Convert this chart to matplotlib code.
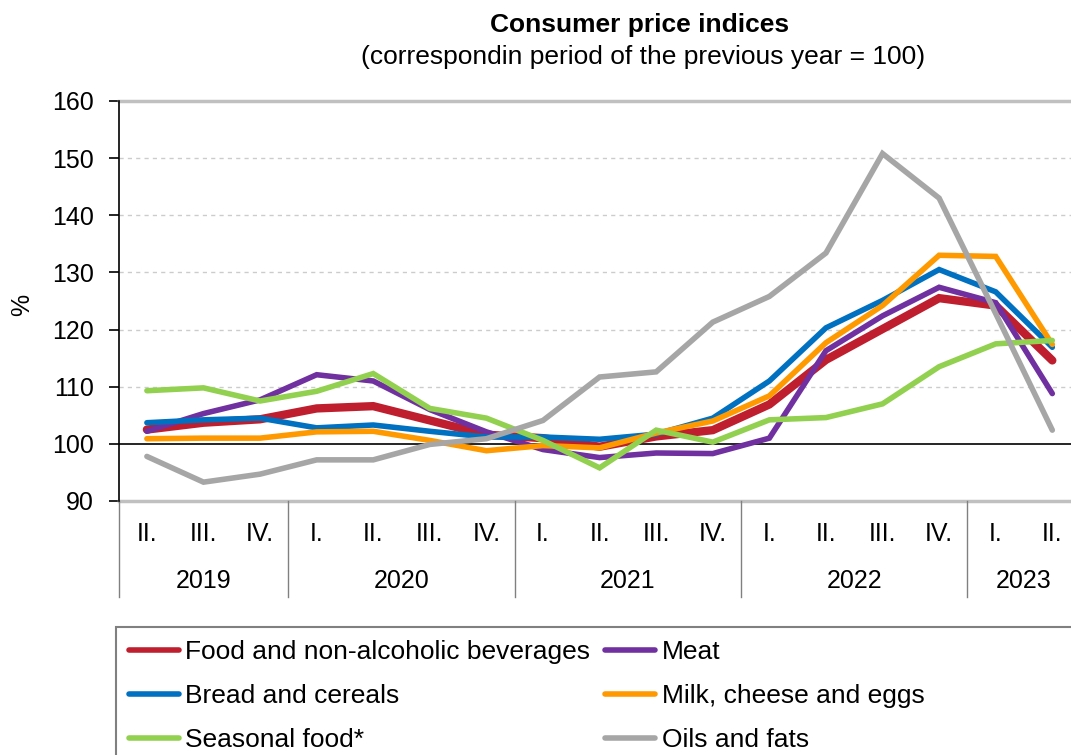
import matplotlib
matplotlib.use('Agg')
import matplotlib.pyplot as plt
from matplotlib.patches import Rectangle
import matplotlib.transforms as mtransforms

plt.rcParams['font.family'] = ['Liberation Sans', 'DejaVu Sans']

# quarters 2019 II .. 2023 II
quarters = ['II.', 'III.', 'IV.',
            'I.', 'II.', 'III.', 'IV.',
            'I.', 'II.', 'III.', 'IV.',
            'I.', 'II.', 'III.', 'IV.',
            'I.', 'II.']
years = ['2019', '2020', '2021', '2022', '2023']
year_sizes = [3, 4, 4, 4, 2]

food = [102.5, 103.7, 104.3, 106.2, 106.6, 104.1, 101.6, 101.0, 99.5, 101.3, 102.4,
        106.9, 114.7, 120.1, 125.5, 124.2, 114.6]
meat = [102.2, 105.3, 107.7, 112.1, 111.0, 106.0, 102.1, 99.0, 97.6, 98.4, 98.3,
        101.0, 116.3, 122.4, 127.4, 124.7, 108.8]
bread = [103.7, 104.2, 104.5, 102.8, 103.3, 102.2, 101.2, 101.2, 100.8, 101.7, 104.5,
         111.0, 120.3, 125.1, 130.5, 126.6, 116.9]
milk = [100.9, 101.0, 101.0, 102.1, 102.2, 100.6, 98.8, 99.7, 99.3, 101.9, 104.0,
        108.4, 117.7, 124.2, 133.0, 132.8, 117.4]
seasonal = [109.3, 109.8, 107.5, 109.2, 112.3, 106.2, 104.5, 100.6, 95.8, 102.4, 100.3,
            104.2, 104.6, 107.0, 113.5, 117.5, 118.1]
oils = [97.8, 93.3, 94.7, 97.2, 97.2, 99.9, 100.9, 104.1, 111.7, 112.6, 121.3,
        125.8, 133.4, 150.8, 143.0, 122.8, 102.4]

series = [
    ('Food and non-alcoholic beverages', food, '#BE1E2D', 6),
    ('Meat', meat, '#7030A0', 4),
    ('Bread and cereals', bread, '#0070C0', 4),
    ('Milk, cheese and eggs', milk, '#FF9900', 4),
    ('Seasonal food*', seasonal, '#92D050', 4),
    ('Oils and fats', oils, '#A6A6A6', 4),
]

fig = plt.figure(figsize=(10.71, 7.55), dpi=100)
W, H = 1071, 755
ax = fig.add_axes([118.6 / W, 1 - 501 / H, 962 / W, 400 / H])

x = list(range(len(quarters)))
handles = []
for name, vals, col, lw in series:
    h, = ax.plot(x, vals, color=col, lw=lw, label=name, solid_capstyle='round',
                 solid_joinstyle='miter', zorder=3)
    handles.append(h)

ax.set_xlim(-0.5, len(quarters) - 0.5)
ax.set_ylim(90, 160)
ax.set_yticks(range(90, 161, 10))
for v in range(110, 160, 10):
    ax.axhline(v, color='#cccccc', lw=1, ls=(0, (3, 3)), zorder=1)
ax.axhline(100, color='black', lw=1.2, zorder=2)

for s in ['top', 'bottom', 'right']:
    ax.spines[s].set_visible(False)
ax.axhline(160, color='#c0c0c0', lw=2.5, zorder=2, clip_on=False)
ax.axhline(90, color='#c0c0c0', lw=2.5, zorder=2, clip_on=False)
ax.spines['left'].set_color('black')
ax.spines['left'].set_linewidth(1.2)
ax.tick_params(axis='y', direction='out', length=7, width=1.2, pad=11, labelsize=18)

ax.set_xticks(x)
ax.set_xticklabels(quarters, fontsize=18)
ax.tick_params(axis='x', length=0, pad=15)

# year groups under the quarter labels
trans = mtransforms.blended_transform_factory(ax.transData, ax.transAxes)
start = -0.5
ax.plot([start, start], [0, -0.24], color='#808080', lw=1, transform=trans, clip_on=False)
for yr, n in zip(years, year_sizes):
    end = start + n
    ax.text((start + end) / 2, -0.2, yr, transform=trans, ha='center', va='center',
            fontsize=18)
    ax.plot([end, end], [0, -0.24], color='#808080', lw=1, transform=trans, clip_on=False)
    start = end

fig.text(22 / W, 1 - 305 / H, '%', rotation=90, ha='center', va='center', fontsize=18)
fig.text(640 / W, 1 - 25 / H, 'Consumer price indices', ha='center', va='center',
         fontsize=19, fontweight='bold')
fig.text(643 / W, 1 - 57 / H, '(correspondin period of the previous year = 100)',
         ha='center', va='center', fontsize=19)

# legend box runs off the bottom and right of the picture
fig.patches.append(Rectangle((115.5 / W, -0.1), 1.2, (1 - 627 / H) + 0.1,
                             transform=fig.transFigure, fill=False,
                             edgecolor='#808080', lw=1.5))
order = [0, 2, 4, 1, 3, 5]
leg = fig.legend([handles[i] for i in order], [series[i][0] for i in order],
                 loc='upper left', bbox_to_anchor=(115.5 / W, 1 - 627 / H), ncol=2,
                 frameon=False, fontsize=19, handlelength=1.9, handletextpad=0.25,
                 columnspacing=0.55, labelspacing=0.75, borderpad=0.5, borderaxespad=0)
for lh in leg.get_lines():
    lh.set_linewidth(4)

fig.savefig('out.png', dpi=100)
